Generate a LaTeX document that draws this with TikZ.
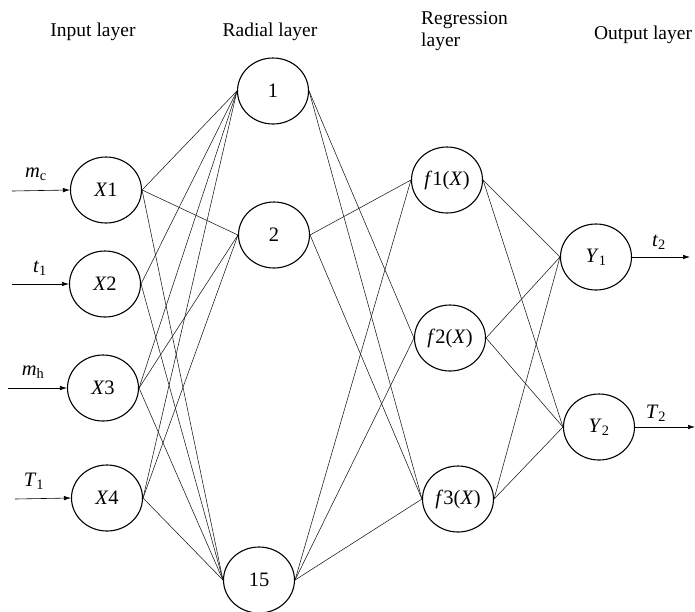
\documentclass[tikz,border=0pt]{standalone}
\usepackage{fontspec}
\setmainfont{Liberation Serif}
\usetikzlibrary{arrows.meta,shapes.geometric}

\begin{document}
\begin{tikzpicture}[x=1pt,y=-1pt,
    neuron/.style={draw,ellipse,line width=1.1pt,minimum width=71pt,minimum height=66pt,inner sep=0pt,font=\fontsize{20.5}{22}\selectfont},
    link/.style={line width=0.55pt,black!90},
    signal/.style={-{Latex[length=7pt,width=4.5pt]},line width=0.6pt},
    layer/.style={font=\fontsize{19.5}{22}\selectfont,align=left,inner sep=0pt},
    sig/.style={font=\fontsize{20.5}{22}\selectfont,inner sep=0pt}]
  % page frame, one unit is one pixel
  \useasboundingbox (0,0) rectangle (695,611);

  % layer titles
  \node[layer] (tin)  at (93,32)  {Input layer};
  \node[layer] (trad) at (270,32) {Radial layer};
  \node[layer,anchor=west] (treg) at (421,31) {Regression\\layer};
  \node[layer] (tout) at (643,35) {Output layer};

  % input layer
  \node[neuron] (X1) at (106,190) {\textit{X}1};
  \node[neuron] (X2) at (105,284) {\textit{X}2};
  \node[neuron] (X3) at (103,388) {\textit{X}3};
  \node[neuron] (X4) at (107,498) {\textit{X}4};

  % radial layer
  \node[neuron] (R1)  at (273,91)  {1};
  \node[neuron] (R2)  at (274,235) {2};
  \node[neuron] (R15) at (259,580) {15};

  % regression layer
  \node[neuron] (F1) at (447,180) {\textit{f}1(\textit{X})};
  \node[neuron] (F2) at (450,338) {\textit{f}2(\textit{X})};
  \node[neuron] (F3) at (458,499) {\textit{f}3(\textit{X})};

  % output layer
  \node[neuron] (Y1) at (596,257) {\textit{Y}\textsubscript{1}};
  \node[neuron] (Y2) at (599,427) {\textit{Y}\textsubscript{2}};

  % inputs
  \coordinate (in1) at (12,191);
  \coordinate (in2) at (12,284);
  \coordinate (in3) at (8,388);
  \coordinate (in4) at (15,499);
  \foreach \i in {1,...,4}
    \draw[signal] (in\i) -- (X\i.west);
  \node[sig] (mc) at (36,174) {\textit{m}\textsubscript{c}};
  \node[sig] (t1) at (40,268) {\textit{t}\textsubscript{1}};
  \node[sig] (mh) at (33,372) {\textit{m}\textsubscript{h}};
  \node[sig] (T1) at (34,481) {\textit{T}\textsubscript{1}};

  % outputs
  \coordinate (out1) at (690,257);
  \coordinate (out2) at (695,427);
  \draw[signal] (Y1.east) -- (out1);
  \draw[signal] (Y2.east) -- (out2);
  \node[sig] (t2) at (659,242) {\textit{t}\textsubscript{2}};
  \node[sig] (T2) at (656,413) {\textit{T}\textsubscript{2}};

  % input to radial
  \foreach \i in {1,3,4}
    \foreach \r in {R1,R2,R15}
      \draw[link] (X\i.east) -- (\r.west);
  \draw[link] (X2.east) -- (R1.west);
  \draw[link] (X2.east) -- (R15.west);

  % radial to regression
  \draw[link] (R1.east) -- (F2.west);
  \draw[link] (R1.east) -- (F3.west);
  \draw[link] (R2.east) -- (F1.west);
  \draw[link] (R2.east) -- (F3.west);
  \foreach \f in {F1,F2,F3}
    \draw[link] (R15.east) -- (\f.west);

  % regression to output
  \foreach \f in {F1,F2,F3}
    \foreach \y in {Y1,Y2}
      \draw[link] (\f.east) -- (\y.west);
\end{tikzpicture}
\end{document}
